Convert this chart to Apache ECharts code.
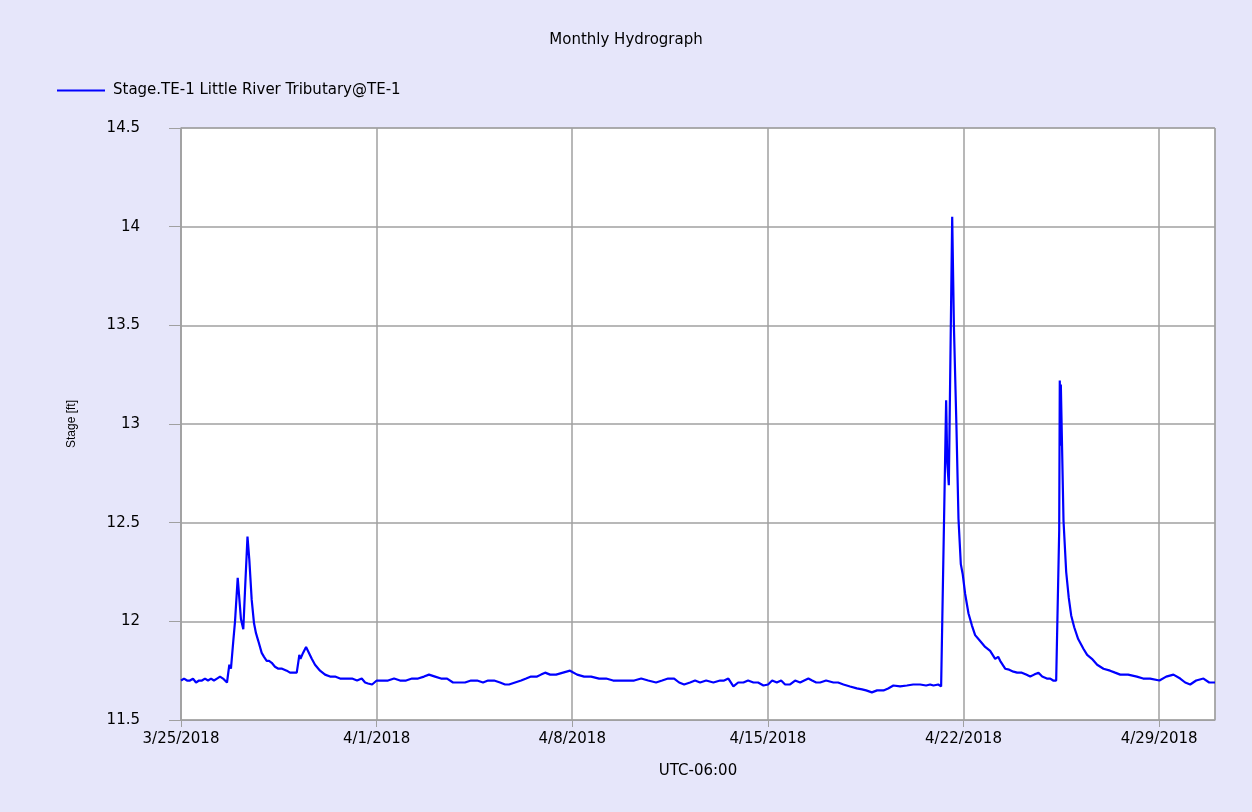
<!DOCTYPE html>
<html>
<head>
<meta charset="utf-8">
<title>Monthly Hydrograph</title>
<script src="https://cdn.jsdelivr.net/npm/echarts@6/dist/echarts.min.js"></script>
<style>
    body { margin: 0; background: #e6e6fa; }
    #chart_hydrograph { width: 1252px; height: 812px; }
</style>
</head>
<body>
<div id="chart_hydrograph"></div>
<script>
// Hours since 3/25/2018 00:00 (UTC-06:00) and stage in ft
var hours = [
    0, 2.6, 5.2, 7.7, 10.3, 12.9, 15.5, 18.0, 20.6, 23.2, 25.8, 28.3, 30.9, 33.5, 36.1, 37.8, 39.5,
    40.8, 41.5, 42.9, 44.9, 46.4, 47.7, 48.7, 49.8, 51.5, 53.5, 54.4, 55.0, 55.8, 57.1, 58.7, 60.7,
    62.7, 64.4, 66.4, 69.3, 71.3, 73.6, 75.6, 77.9, 80.7, 83.6, 86.8, 90.8, 93.6, 96.2, 97.9, 99.4,
    100.9, 101.6, 102.6, 104.8, 107.4, 109.9, 112.3, 115.1, 119.4, 123.7, 128.0, 132.3, 136.6,
    142.3, 146.9, 151.2, 155.2, 158.1, 160.6, 164.1, 168.1,
    172.7, 177.8, 183.0, 188.1, 193.3, 198.4, 203.6, 208.7, 213.0, 218.2, 223.3, 228.5, 233.6,
    238.8, 243.9, 249.1, 254.3, 259.4, 263.7, 268.9, 274.0, 278.3, 281.7, 286.9, 292.1, 296.4,
    300.6, 305.8, 309.2, 312.7, 317.0, 322.1, 328.1, 334.1, 340.2, 346.2, 352.2, 359.1, 365.1,
    371.1, 377.1, 383.1, 389.2, 395.2, 401.2, 408.0, 413.2, 418.3, 423.5, 427.8, 432.1, 437.2,
    441.5, 445.8, 451.0, 457.2, 463.0, 466.4, 470.1, 474.4, 478.5, 483.0, 487.0, 491.6, 495.6,
    500.2, 504.2, 507.7, 511.7, 515.4, 518.8, 523.1, 527.4, 531.7, 535.2, 538.8, 542.0, 545.5,
    548.9, 554.0, 560.3, 564.3, 568.9, 574.6, 580.4, 584.9, 588.4, 593.3, 597.8, 603.3, 607.3,
    611.8, 617.6, 623.4, 628.8, 634.8, 639.9, 643.4, 646.2, 650.3, 652.8, 654.5,
    657.1, 658.1, 659.4, 662.3, 663.8, 665.9, 667.7, 669.7, 671.3, 673.4, 676.3, 679.2, 682.0,
    686.3, 690.6, 694.9, 699.2, 701.8, 703.5, 707.8, 711.2, 714.9, 718.1, 722.1, 725.8, 729.3,
    732.7, 736.4, 739.6, 743.6, 746.5, 749.0, 751.6, 752.7,
    754.2, 754.7, 755.1, 755.6, 757.9, 760.2, 762.4, 764.5, 767.1, 770.5, 775.1, 778.2, 782.3,
    786.8, 792.2, 797.9, 802.2, 806.6, 813.4, 820.9, 826.3, 832.3, 840.3, 846.1, 852.3, 858.1,
    862.4, 866.7, 871.8, 878.1, 883.0, 888.0
];
var stage = [
    11.70, 11.71, 11.70, 11.70, 11.71, 11.69, 11.70, 11.70, 11.71, 11.70, 11.71, 11.70, 11.71, 11.72, 11.71, 11.71, 11.69,
    11.70, 11.78, 11.76, 11.90, 12.00, 12.01, 12.22, 12.21, 12.01, 11.96, 11.97, 12.16, 12.15, 12.43, 12.31, 12.11,
    11.99, 11.94, 11.90, 11.84, 11.82, 11.80, 11.80, 11.79, 11.77, 11.76, 11.76, 11.75, 11.74, 11.74, 11.73, 11.74,
    11.80, 11.83, 11.81, 11.84, 11.87, 11.84, 11.81, 11.78, 11.75, 11.73, 11.72, 11.72, 11.71,
    11.71, 11.71, 11.70, 11.71, 11.69, 11.685, 11.68, 11.70,
    11.70, 11.70, 11.71, 11.70, 11.70, 11.71, 11.71, 11.72, 11.73, 11.72, 11.71, 11.71, 11.69,
    11.69, 11.69, 11.70, 11.70, 11.69, 11.70, 11.70, 11.69, 11.68, 11.68, 11.69, 11.70, 11.71,
    11.72, 11.72, 11.73, 11.74, 11.73, 11.73, 11.74, 11.75, 11.73, 11.72, 11.72, 11.71, 11.71,
    11.70, 11.70, 11.70, 11.70, 11.71, 11.70, 11.69, 11.70, 11.71, 11.71, 11.69, 11.68, 11.69,
    11.70, 11.69, 11.70, 11.69, 11.70, 11.70, 11.71, 11.67, 11.69, 11.69, 11.70, 11.69, 11.69,
    11.675, 11.68, 11.70, 11.69, 11.70, 11.68, 11.68, 11.70, 11.69, 11.70, 11.71, 11.70, 11.69,
    11.69, 11.70, 11.69, 11.69, 11.68, 11.67, 11.66, 11.655, 11.65, 11.64, 11.65, 11.65, 11.66,
    11.675, 11.67, 11.675, 11.68, 11.68, 11.675, 11.68, 11.675, 11.68, 11.67, 11.67,
    13.12, 12.80, 12.69, 14.05, 13.49, 13.00, 12.52, 12.29, 12.24, 12.14, 12.04, 11.98, 11.93,
    11.90, 11.87, 11.85, 11.81, 11.82, 11.80, 11.76, 11.755, 11.745, 11.74, 11.74, 11.73, 11.72,
    11.73, 11.74, 11.72, 11.71, 11.71, 11.70, 11.70, 11.70,
    12.46, 13.22, 12.89, 13.20, 12.51, 12.25, 12.12, 12.03, 11.97, 11.91, 11.86, 11.83, 11.81,
    11.78, 11.76, 11.75, 11.74, 11.73, 11.73, 11.72, 11.71, 11.71, 11.70, 11.72, 11.73, 11.71,
    11.69, 11.68, 11.70, 11.71, 11.69, 11.69
];
var seriesName = 'Stage.TE-1 Little River Tributary@TE-1';
var startUtc = Date.UTC(2018, 2, 25);

function format_date(h) {
    var d = new Date(startUtc + h * 3600000);
    return (d.getUTCMonth() + 1) + '/' + d.getUTCDate() + '/' + d.getUTCFullYear();
}

function create_hydrograph() {
    var myChart = echarts.init(document.getElementById('chart_hydrograph'));
    var formatData = [];
    for (var i = 0; i < hours.length; i++) {
        formatData.push([hours[i], stage[i]]);
    }
    var gray = '#a0a0a0';

    option = {
        backgroundColor: '#e6e6fa',
        animation: false,
        title: {
            text: 'Monthly Hydrograph',
            left: 'center',
            top: 28,
            textStyle: {
                color: '#000',
                fontWeight: 'normal',
                fontSize: 15,
                fontFamily: 'DejaVu Sans'
            }
        },
        legend: {
            left: 52,
            top: 78,
            icon: 'rect',
            itemWidth: 48,
            itemHeight: 2,
            itemGap: 8,
            data: [seriesName],
            textStyle: {
                color: '#000',
                fontSize: 15,
                fontFamily: 'DejaVu Sans',
                padding: [0, 0, 0, 3]
            }
        },
        grid: {
            left: 181,
            right: 37,
            top: 128,
            bottom: 92,
            show: true,
            backgroundColor: '#fff',
            borderColor: gray,
            borderWidth: 1
        },
        xAxis: {
            type: 'value',
            min: 0,
            max: 888,
            interval: 168,
            name: 'UTC-06:00',
            nameLocation: 'middle',
            nameGap: 44,
            nameTextStyle: { color: '#000', fontSize: 15, fontFamily: 'DejaVu Sans' },
            axisLine: { show: true, lineStyle: { color: gray, width: 1 } },
            axisTick: { show: true, length: 7, lineStyle: { color: gray } },
            axisLabel: {
                color: '#000',
                fontSize: 15,
                fontFamily: 'DejaVu Sans',
                margin: 12,
                formatter: format_date
            },
            splitLine: { show: true, lineStyle: { color: gray, width: 1.5 } }
        },
        yAxis: {
            type: 'value',
            min: 11.5,
            max: 14.5,
            interval: 0.5,
            offset: 26,
            name: 'Stage [ft]',
            nameLocation: 'middle',
            nameGap: 77,
            nameTextStyle: { color: '#000', fontSize: 12, fontFamily: 'Liberation Sans' },
            axisLine: { show: true, lineStyle: { color: gray, width: 1.5 } },
            axisTick: { show: true, length: 12, lineStyle: { color: gray } },
            axisLabel: {
                color: '#000',
                fontSize: 15,
                fontFamily: 'DejaVu Sans',
                margin: 15
            },
            splitLine: { show: true, lineStyle: { color: gray, width: 1.5 } }
        },
        series: [
            {
                name: seriesName,
                type: 'line',
                symbol: 'none',
                data: formatData,
                lineStyle: { color: '#0000ff', width: 2.2 },
                itemStyle: { color: '#0000ff' }
            }
        ]
    };
    myChart.setOption(option);
}

create_hydrograph();
</script>
</body>
</html>
